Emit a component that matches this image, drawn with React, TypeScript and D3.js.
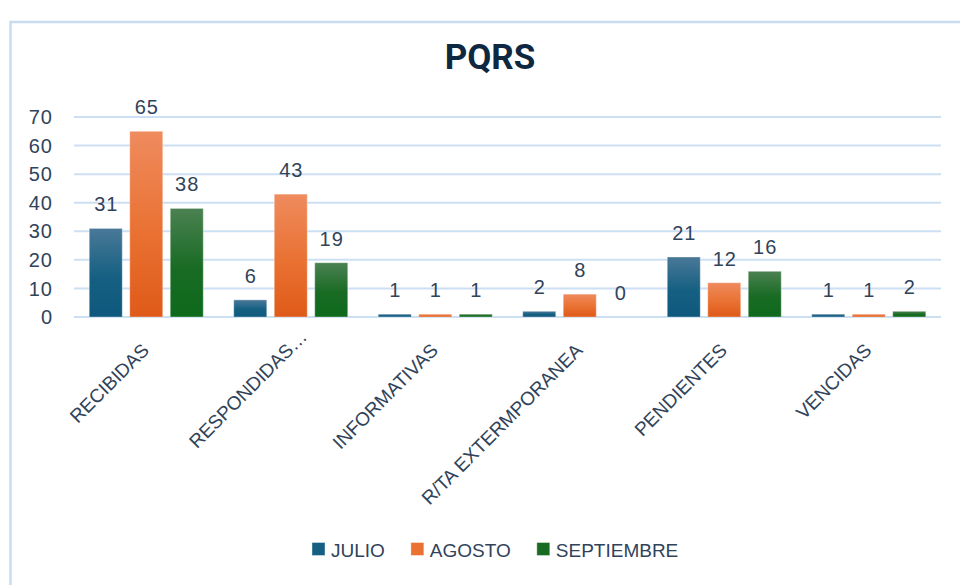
import React, { useEffect, useRef } from "react";
import * as d3 from "d3";

const categories = ["RECIBIDAS", "RESPONDIDAS…", "INFORMATIVAS", "R/TA EXTERMPORANEA", "PENDIENTES", "VENCIDAS"];
const series = ["JULIO", "AGOSTO", "SEPTIEMBRE"];
const julio = [31, 6, 1, 2, 21, 1];
const agosto = [65, 43, 1, 8, 12, 1];
const septiembre = [38, 19, 1, 0, 16, 2];
const yTicks = [0, 10, 20, 30, 40, 50, 60, 70];
const title = "PQRS";

const W = 960;
const H = 585;
const colors = ["#156082", "#E97132", "#196B24"];
const topColors = ["#4a7898", "#ef8b5e", "#4b8152"];
const botColors = ["#0d587c", "#df5a18", "#0e6a1c"];
const textColor = "#30435a";
const numFont = "'Liberation Sans', Arial, sans-serif";

export default function App() {
  const ref = useRef<SVGSVGElement | null>(null);

  useEffect(() => {
    const svg = d3.select(ref.current);
    svg.selectAll("*").remove();

    const values = [julio, agosto, septiembre];
    const plotL = 74, plotR = 941, plotT = 117, plotB = 317;

    const defs = svg.append("defs");
    series.forEach((s, i) => {
      const g = defs.append("linearGradient").attr("id", "grad" + i)
        .attr("x1", 0).attr("y1", 0).attr("x2", 0).attr("y2", 1);
      g.append("stop").attr("offset", "0%").attr("stop-color", topColors[i]);
      g.append("stop").attr("offset", "55%").attr("stop-color", colors[i]);
      g.append("stop").attr("offset", "100%").attr("stop-color", botColors[i]);
    });

    svg.append("rect").attr("width", W).attr("height", H).attr("fill", "#ffffff");
    svg.append("rect").attr("x", 10.5).attr("y", 22).attr("width", 1200).attr("height", 1200)
      .attr("fill", "none").attr("stroke", "#c9dcf2").attr("stroke-width", 2.5);

    svg.append("text").attr("x", 490).attr("y", 69).attr("text-anchor", "middle")
      .attr("font-family", "Roboto, 'Liberation Sans', sans-serif").attr("font-weight", 700)
      .attr("font-size", 35).attr("fill", "#0e2841").text(title);

    const y = d3.scaleLinear().domain([0, 70]).range([plotB, plotT]);
    const x0 = d3.scaleBand<string>().domain(categories).range([plotL, plotR]).paddingInner(0).paddingOuter(0);
    const bw = x0.bandwidth();
    const x1 = d3.scaleBand<string>().domain(series).range([15.25, bw - 15.25]).paddingInner(0.185).paddingOuter(0);

    // gridlines
    svg.append("g").selectAll("line").data(yTicks).join("line")
      .attr("x1", plotL).attr("x2", plotR)
      .attr("y1", (d) => y(d)).attr("y2", (d) => y(d))
      .attr("stroke", "#cddff3").attr("stroke-width", 2);

    // y labels
    svg.append("g").selectAll("text").data(yTicks).join("text")
      .attr("x", 53).attr("y", (d) => y(d)).attr("dy", "0.36em")
      .attr("text-anchor", "end").attr("font-family", numFont).attr("font-size", 20)
      .attr("letter-spacing", 1).attr("fill", textColor).text((d) => String(d));

    // bars
    series.forEach((s, si) => {
      const g = svg.append("g");
      g.selectAll("rect").data(values[si]).join("rect")
        .attr("x", (_d, i) => (x0(categories[i]) as number) + (x1(s) as number))
        .attr("y", (d) => y(d))
        .attr("width", x1.bandwidth())
        .attr("height", (d) => y(0) - y(d))
        .attr("fill", `url(#grad${si})`)
        .attr("stroke", "#ffffff").attr("stroke-opacity", 0.35).attr("stroke-width", 1);
      g.selectAll("text").data(values[si]).join("text")
        .attr("x", (_d, i) => (x0(categories[i]) as number) + (x1(s) as number) + x1.bandwidth() / 2 + 0.5)
        .attr("y", (d) => y(d) - 17)
        .attr("text-anchor", "middle").attr("font-family", numFont).attr("font-size", 20)
        .attr("letter-spacing", 1).attr("fill", textColor).text((d) => String(d));
    });

    // category labels
    svg.append("g").selectAll("text").data(categories).join("text")
      .attr("transform", (d) => `translate(${(x0(d) as number) + bw / 2 + 4},351.5) rotate(-45)`)
      .attr("dx", (d) => (d.endsWith("…") ? 19 : 0))
      .attr("text-anchor", "end").attr("font-family", "'Liberation Sans', Arial, sans-serif")
      .attr("font-size", 19).attr("fill", textColor).text((d) => d);

    // legend
    const leg = svg.append("g");
    const items = leg.selectAll("g").data(series).join("g");
    items.append("rect").attr("width", 13).attr("height", 13).attr("y", 542.5)
      .attr("fill", (_d, i) => colors[i]).attr("stroke", "#ffffff").attr("stroke-opacity", 0.4);
    items.append("text").attr("x", 19).attr("y", 556.5)
      .attr("font-family", "'Liberation Sans', Arial, sans-serif").attr("font-size", 19)
      .attr("fill", textColor).text((d) => d);
    let cx = 312;
    items.each(function () {
      const t = d3.select(this).select("text").node() as SVGTextElement;
      const w = t.getComputedTextLength();
      d3.select(this).attr("transform", `translate(${cx},0)`);
      cx += 19 + w + 26;
    });
  }, []);

  return (
    <svg ref={ref} width={W} height={H} style={{ position: "absolute", left: 0, top: 0 }} />
  );
}
